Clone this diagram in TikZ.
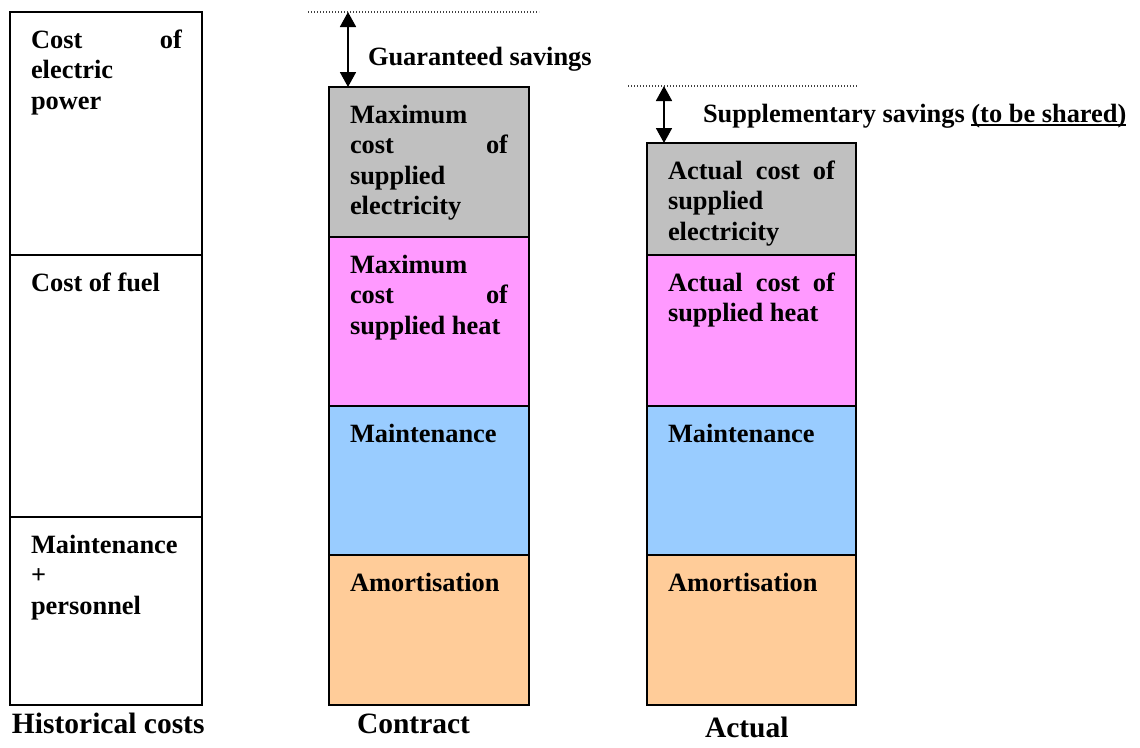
\documentclass[tikz,border=0pt]{standalone}
\usepackage{fontspec}
\setmainfont{Liberation Serif}
\usetikzlibrary{arrows.meta}
\definecolor{cgray}{HTML}{C0C0C0}
\definecolor{cpink}{HTML}{FF99FF}
\definecolor{cblue}{HTML}{99CCFF}
\definecolor{corange}{HTML}{FFCC99}
\newcommand\myul[1]{\setbox0\hbox{#1}\rlap{\rule[-4pt]{\wd0}{2pt}}\box0}
\newcommand\jline[2]{\makebox[#1][s]{#2}}
\newcommand\fstrut{\rule{0pt}{20pt}}
\begin{document}
\begin{tikzpicture}[x=1pt,y=-1pt,
  seg/.style={draw=black, line width=2pt, inner sep=0pt, outer sep=0pt, anchor=north west},
  txt/.style={anchor=north west, inner sep=0pt, outer sep=0pt, align=left,
    font=\fontsize{26.4}{30.5}\selectfont\bfseries},
  lbl/.style={anchor=base west, inner sep=0pt, outer sep=0pt,
    font=\fontsize{26.4}{30.5}\selectfont\bfseries},
  big/.style={anchor=base west, inner sep=0pt, outer sep=0pt,
    font=\fontsize{29.5}{34}\selectfont\bfseries},
  dotline/.style={line width=1.1pt, black!75, dash pattern=on 1.1pt off 1.9pt},
  dblarrow/.style={line width=1.8pt, {Triangle[width=16pt,length=15pt]}-{Triangle[width=16pt,length=15pt]}}]
\useasboundingbox (0,0) rectangle (1140,747);

% Historical costs column
\node[seg, minimum width=192pt, minimum height=243pt] (lc1) at (10,12) {};
\node[seg, minimum width=192pt, minimum height=262pt] (lc2) at (10,255) {};
\node[seg, minimum width=192pt, minimum height=188pt] (lc3) at (10,517) {};

% Contract column
\node[seg, fill=cgray,   minimum width=200pt, minimum height=150pt] (c1) at (329,87) {};
\node[seg, fill=cpink,   minimum width=200pt, minimum height=169pt] (c2) at (329,237) {};
\node[seg, fill=cblue,   minimum width=200pt, minimum height=149pt] (c3) at (329,406) {};
\node[seg, fill=corange, minimum width=200pt, minimum height=150pt] (c4) at (329,555) {};

% Actual column
\node[seg, fill=cgray,   minimum width=209pt, minimum height=112pt] (a1) at (647,143) {};
\node[seg, fill=cpink,   minimum width=209pt, minimum height=151pt] (a2) at (647,255) {};
\node[seg, fill=cblue,   minimum width=209pt, minimum height=149pt] (a3) at (647,406) {};
\node[seg, fill=corange, minimum width=209pt, minimum height=150pt] (a4) at (647,555) {};

% texts in boxes
\node[txt] (tl1) at ([shift={(21,16)}]lc1.north west) {\fstrut\jline{151pt}{Cost of}\\electric\\power};
\node[txt] (tl2) at ([shift={(21,16)}]lc2.north west) {\fstrut Cost of fuel};
\node[txt] (tl3) at ([shift={(21,16)}]lc3.north west) {\fstrut Maintenance\\+\\personnel};

\node[txt] (tc1) at ([shift={(21,16)}]c1.north west) {\fstrut Maximum\\\jline{158pt}{cost of}\\supplied\\electricity};
\node[txt] (tc2) at ([shift={(21,16)}]c2.north west) {\fstrut Maximum\\\jline{158pt}{cost of}\\supplied heat};
\node[txt] (tc3) at ([shift={(21,16)}]c3.north west) {\fstrut Maintenance};
\node[txt] (tc4) at ([shift={(21,16)}]c4.north west) {\fstrut Amortisation};

\node[txt] (ta1) at ([shift={(21,16)}]a1.north west) {\fstrut\jline{167pt}{Actual cost of}\\supplied\\electricity};
\node[txt] (ta2) at ([shift={(21,16)}]a2.north west) {\fstrut\jline{167pt}{Actual cost of}\\supplied heat};
\node[txt] (ta3) at ([shift={(21,16)}]a3.north west) {\fstrut Maintenance};
\node[txt] (ta4) at ([shift={(21,16)}]a4.north west) {\fstrut Amortisation};

% savings markers
\coordinate (gl) at (308,12);
\coordinate (gr) at (539,12);
\coordinate (ga) at (348,12);
\draw[dotline] (gl) -- (gr);
\draw[dblarrow] (ga) -- (ga |- c1.north);
\node[lbl] (gs) at (368,65) {Guaranteed savings};

\coordinate (sl) at (628,86);
\coordinate (sr) at (858,86);
\coordinate (sa) at (664,86);
\draw[dotline] (sl) -- (sr);
\draw[dblarrow] (sa) -- (sa |- a1.north);
\node[lbl] (ss) at (703,122) {Supplementary savings \myul{(to be shared)}};

% column captions
\node[big] (hc) at (12,733) {Historical costs};
\node[big] (ct) at (357,733) {Contract};
\node[big] (ac) at (705,737) {Actual};
\end{tikzpicture}
\end{document}
